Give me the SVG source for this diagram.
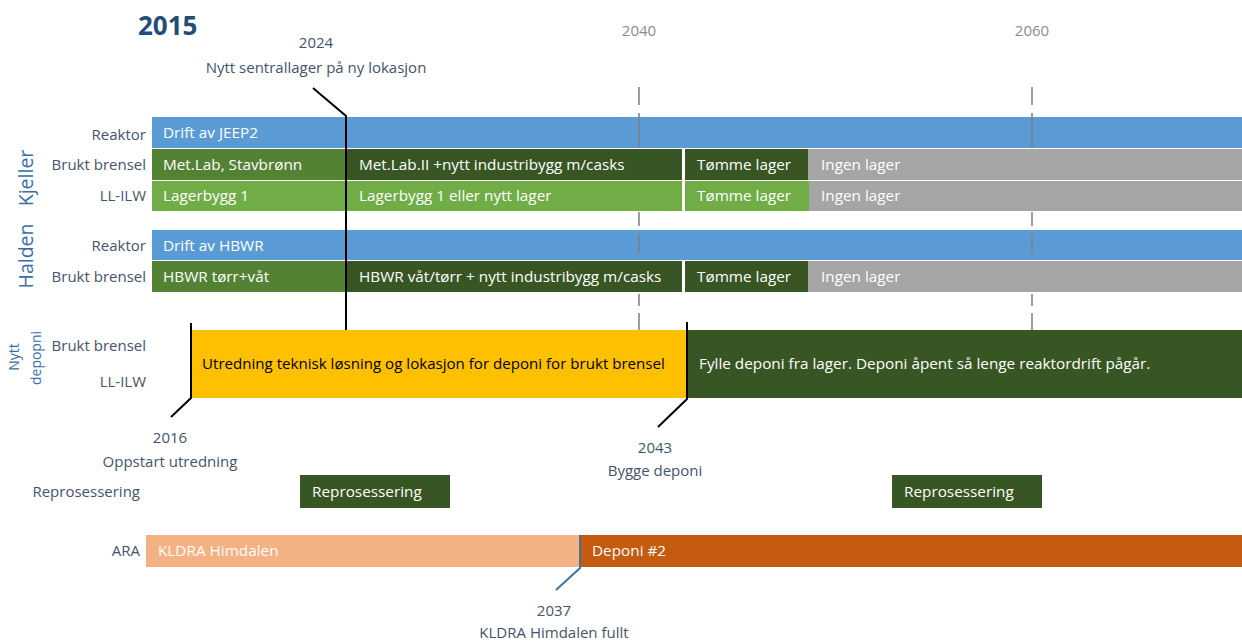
<svg xmlns="http://www.w3.org/2000/svg" width="1242" height="642" viewBox="0 0 1242 642">
<style>
  text { font-family: "Open Sans", "Liberation Sans", sans-serif; }
  .lbl { font-size: 15px; fill: #44546a; text-anchor: end; }
  .grp { font-size: 19.5px; fill: #3b6ea5; text-anchor: middle; }
  .grp2 { font-size: 14px; fill: #3b6ea5; text-anchor: middle; }
  .bt { font-size: 15.3px; fill: #ffffff; }
  .bk { font-size: 15.1px; fill: #000000; }
  .ms { font-size: 15px; fill: #44546a; text-anchor: middle; }
  .yr { font-size: 15px; fill: #8c8c8c; text-anchor: middle; }
  .blue { fill: #5b9bd5; }
  .mg { fill: #548235; }
  .dg { fill: #375623; }
  .lg { fill: #70ad47; }
  .gr { fill: #a5a5a5; }
  .grid { stroke: #7f7f7f; stroke-width: 1.5; fill: none; }
  .conn { stroke: #000000; stroke-width: 2; fill: none; }
</style>

<g id="title">
  <text x="138" y="35" style="font-size:26px;font-weight:bold;fill:#1f4e79">2015</text>
  <text class="yr" x="639" y="36">2040</text>
  <text class="yr" x="1032" y="36">2060</text>
</g>

<g id="row-labels">
  <text class="lbl" x="146" y="140">Reaktor</text>
  <text class="lbl" x="146" y="170">Brukt brensel</text>
  <text class="lbl" x="146" y="201">LL-ILW</text>
  <text class="lbl" x="146" y="251">Reaktor</text>
  <text class="lbl" x="146" y="282">Brukt brensel</text>
  <text class="lbl" x="146" y="351">Brukt brensel</text>
  <text class="lbl" x="146" y="387">LL-ILW</text>
  <text class="lbl" x="140" y="497">Reprosessering</text>
  <text class="lbl" x="140" y="556">ARA</text>
  <text class="grp" transform="translate(33,178) rotate(-90)">Kjeller</text>
  <text class="grp" transform="translate(33,256) rotate(-90)">Halden</text>
  <text class="grp2" transform="translate(19,357) rotate(-90)">Nytt</text>
  <text class="grp2" transform="translate(41,358) rotate(-90)">depopni</text>
</g>

<g id="kjeller-reaktor">
  <rect class="blue" x="152" y="117" width="1090" height="31"/>
  <text class="bt" x="163" y="138">Drift av JEEP2</text>
</g>
<g id="halden-reaktor">
  <rect class="blue" x="152" y="230" width="1090" height="30"/>
  <text class="bt" x="163" y="251">Drift av HBWR</text>
</g>

<g id="grid">
  <path class="grid" d="M639,87 V105 M639,113 V148 M639,212 V226 M639,234 V253 M639,294 V306 M639,313 V330"/>
  <path class="grid" d="M1032,87 V105 M1032,113 V148 M1032,212 V226 M1032,234 V253 M1032,294 V306 M1032,313 V330"/>
</g>

<g id="kjeller-brensel-1">
  <rect class="mg" x="152" y="149" width="194" height="31"/>
  <text class="bt" x="163" y="170">Met.Lab, Stavbrønn</text>
</g>
<g id="kjeller-brensel-2">
  <rect class="dg" x="346" y="149" width="336" height="31"/>
  <text class="bt" x="359" y="170">Met.Lab.II +nytt industribygg m/casks</text>
</g>
<g id="kjeller-brensel-3">
  <rect class="dg" x="685" y="149" width="123" height="31"/>
  <text class="bt" x="697" y="170">Tømme lager</text>
</g>
<g id="kjeller-brensel-4">
  <rect class="gr" x="808" y="149" width="434" height="31"/>
  <text class="bt" x="821" y="170">Ingen lager</text>
</g>

<g id="kjeller-llilw-1">
  <rect class="lg" x="152" y="181" width="194" height="30"/>
  <text class="bt" x="163" y="201">Lagerbygg 1</text>
</g>
<g id="kjeller-llilw-2">
  <rect class="lg" x="346" y="181" width="336" height="30"/>
  <text class="bt" x="359" y="201">Lagerbygg 1 eller nytt lager</text>
</g>
<g id="kjeller-llilw-3">
  <rect class="lg" x="685" y="181" width="124" height="30"/>
  <text class="bt" x="697" y="201">Tømme lager</text>
</g>
<g id="kjeller-llilw-4">
  <rect class="gr" x="809" y="181" width="433" height="30"/>
  <text class="bt" x="821" y="201">Ingen lager</text>
</g>

<g id="halden-brensel-1">
  <rect class="mg" x="152" y="261" width="194" height="31"/>
  <text class="bt" x="163" y="282">HBWR tørr+våt</text>
</g>
<g id="halden-brensel-2">
  <rect class="dg" x="346" y="261" width="336" height="31"/>
  <text class="bt" x="359" y="282">HBWR våt/tørr + nytt industribygg m/casks</text>
</g>
<g id="halden-brensel-3">
  <rect class="dg" x="685" y="261" width="123" height="31"/>
  <text class="bt" x="697" y="282">Tømme lager</text>
</g>
<g id="halden-brensel-4">
  <rect class="gr" x="808" y="261" width="434" height="31"/>
  <text class="bt" x="821" y="282">Ingen lager</text>
</g>

<g id="deponi-utredning">
  <rect x="191" y="330" width="496" height="68" fill="#ffc000"/>
  <text class="bk" x="202" y="369">Utredning teknisk løsning og lokasjon for deponi for brukt brensel</text>
</g>
<g id="deponi-fylle">
  <rect class="dg" x="687" y="330" width="555" height="68"/>
  <text class="bt" x="699" y="369">Fylle deponi fra lager. Deponi åpent så lenge reaktordrift pågår.</text>
</g>

<g id="repro-1">
  <rect class="dg" x="300" y="475" width="150" height="33"/>
  <text class="bt" x="312" y="497">Reprosessering</text>
</g>
<g id="repro-2">
  <rect class="dg" x="892" y="475" width="150" height="33"/>
  <text class="bt" x="904" y="497">Reprosessering</text>
</g>

<g id="ara-kldra">
  <rect x="146" y="535" width="434" height="32" fill="#f4b183"/>
  <text class="bt" x="158" y="556">KLDRA Himdalen</text>
</g>
<g id="ara-deponi2">
  <rect x="580" y="535" width="662" height="32" fill="#c55a11"/>
  <text class="bt" x="592" y="556">Deponi #2</text>
</g>

<g id="connectors">
  <path class="conn" d="M313,88 L346,116 V330"/>
  <path class="conn" d="M191,323 V398 L171,417"/>
  <path class="conn" d="M687,322 V399 L658,427"/>
  <path d="M580,535 V568 L556,590" stroke="#41719c" stroke-width="2" fill="none"/>
</g>

<g id="milestones">
  <text class="ms" x="316" y="48">2024</text>
  <text class="ms" x="316" y="73">Nytt sentrallager på ny lokasjon</text>
  <text class="ms" x="170" y="443">2016</text>
  <text class="ms" x="170" y="467">Oppstart utredning</text>
  <text class="ms" x="655" y="453">2043</text>
  <text class="ms" x="655" y="476">Bygge deponi</text>
  <text class="ms" x="554" y="616">2037</text>
  <text class="ms" x="554" y="638">KLDRA Himdalen fullt</text>
</g>
</svg>
